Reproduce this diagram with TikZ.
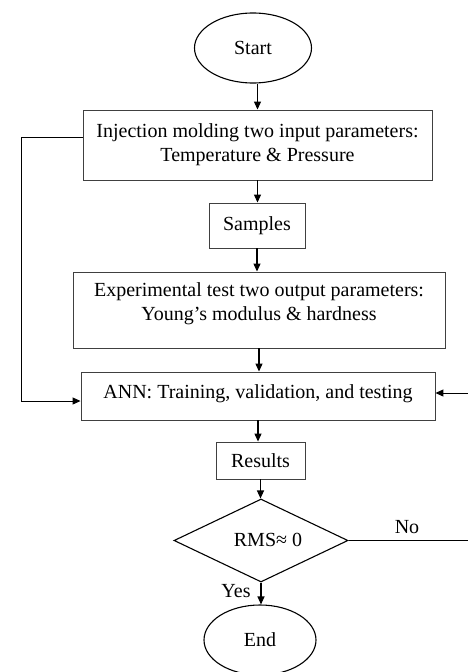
\documentclass[tikz,border=0pt]{standalone}
\usepackage{fontspec}
\setmainfont{Liberation Serif}
\usetikzlibrary{shapes.geometric,arrows.meta}
\begin{document}
\begin{tikzpicture}[x=1pt,y=-1pt,
  txt/.style={font=\fontsize{20}{24}\selectfont, inner sep=0pt, align=center},
  box/.style={draw=black!75, line width=0.9pt, rectangle, inner sep=0pt, font=\fontsize{20}{24}\selectfont, align=center},
  oval/.style={draw, ellipse, line width=1.1pt, inner sep=0pt, font=\fontsize{20}{24}\selectfont},
  arr/.style={-{Triangle[length=8pt,width=7pt]}, line width=1.1pt},
  ln/.style={line width=1pt}]
\fill[white] (0,0) rectangle (467,672);
\useasboundingbox (0,0) rectangle (467,672);
% nodes
\node[oval, minimum width=117pt, minimum height=70pt] (start) at (253,48) {Start};
\node[box, minimum width=349pt, minimum height=70pt] (b1) at (257.5,145) {Injection molding two input parameters:\\Temperature \& Pressure};
\node[box, minimum width=96pt, minimum height=45pt] (smp) at (257,225.5) {Samples};
\node[box, minimum width=372pt, minimum height=76pt] (b3) at (259,310) {};
\node[txt] (b3t) at (259,304) {Experimental test two output parameters:\\Young’s modulus \& hardness};
\node[box, minimum width=354pt, minimum height=48pt] (ann) at (258,396) {};
\node[txt] (annt) at (258,394) {ANN: Training, validation, and testing};
\node[box, minimum width=89pt, minimum height=37pt] (res) at (260.5,460.5) {Results};
\node[draw, diamond, minimum width=174pt, minimum height=83pt, line width=1.1pt, inner sep=0pt] (dec) at (261,540.5) {};
\node[txt] (rms) at (268,540) {RMS≈ 0};
\node[oval, minimum width=112pt, minimum height=70pt] (end) at (260,640) {End};
\node[txt] (no) at (407,527) {No};
\node[txt] (yes) at (236,591) {Yes};
% helper coordinates
\coordinate (fl1) at (21,137);
\coordinate (fl2) at (21,401);
\coordinate (fr1) at (469,540.5);
\coordinate (fr2) at (469,393);
% connectors
\draw[arr] (b1.north |- start.south) -- (b1.north);
\draw[arr] (b1.south) -- (b1.south |- smp.north);
\draw[arr] (smp.south) -- (smp.south |- b3.north);
\draw[arr] (b3.south) -- (b3.south |- ann.north);
\draw[arr] (ann.south) -- (ann.south |- res.north);
\draw[arr] (res.south) -- (res.south |- dec.north);
\draw[arr] (dec.south) -- (dec.south |- end.north);
\draw[arr,ln] (b1.west |- fl1) -- (fl1) -- (fl2) -- (ann.west |- fl2);
\draw[arr,ln] (dec.east) -- (fr1) -- (fr2) -- (ann.east |- fr2);
\end{tikzpicture}
\end{document}
